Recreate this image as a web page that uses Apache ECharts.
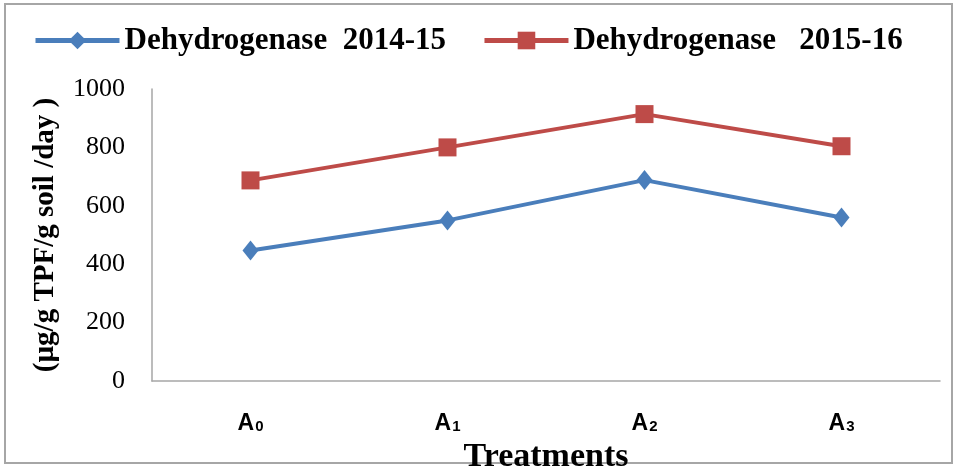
<!DOCTYPE html>
<html>
<head>
<meta charset="utf-8">
<script src="https://cdn.jsdelivr.net/npm/echarts@6/dist/echarts.min.js"></script>
<style>
  html, body { margin: 0; padding: 0; background: #fff; }
  #chart { width: 957px; height: 466px; }
</style>
</head>
<body>
<div id="chart"></div>
<script>
const categories = ['A0', 'A1', 'A2', 'A3'];
const subs = ['0', '1', '2', '3'];
const dehydro1415 = [447, 550, 688, 560];
const dehydro1516 = [687, 800, 914, 804];
const yTicks = [0, 200, 400, 600, 800, 1000];

const chart = echarts.init(document.getElementById('chart'));

chart.setOption({
  animation: false,
  backgroundColor: '#fff',
  graphic: [{
    type: 'rect',
    shape: { x: 5, y: 4, width: 947, height: 459 },
    style: { fill: 'none', stroke: '#a6a6a6', lineWidth: 2 }
  }],
  legend: {
    top: 20,
    left: 28,
    itemWidth: 84,
    itemHeight: 22,
    itemGap: 36,
    textStyle: {
      fontFamily: 'Liberation Serif',
      fontWeight: 'bold',
      fontSize: 31,
      color: '#000'
    },
    data: [
      { name: 'Dehydrogenase  2014-15', itemStyle: { color: '#4a7ebb' }, lineStyle: { width: 5 } },
      { name: 'Dehydrogenase   2015-16', itemStyle: { color: '#be4b48' }, lineStyle: { width: 5 } }
    ]
  },
  grid: { left: 152, top: 89, right: 17, bottom: 85, outerBoundsMode: 'none' },
  xAxis: {
    type: 'category',
    data: categories,
    boundaryGap: true,
    axisLine: { lineStyle: { color: '#a6a6a6', width: 1.5 } },
    axisTick: { show: false },
    axisLabel: {
      margin: 31,
      formatter: (v, i) => '{a|A}{s|' + subs[i] + '}',
      rich: {
        a: { fontFamily: 'Liberation Sans', fontWeight: 'bold', fontSize: 23, color: '#000' },
        s: { fontFamily: 'Liberation Sans', fontWeight: 'bold', fontSize: 15, color: '#000', padding: [6, 0, 0, 1] }
      }
    },
    name: 'Treatments',
    nameLocation: 'middle',
    nameGap: 47,
    nameTextStyle: {
      fontFamily: 'Liberation Serif',
      fontWeight: 'bold',
      fontSize: 34,
      color: '#000'
    }
  },
  yAxis: {
    type: 'value',
    min: yTicks[0],
    max: yTicks[yTicks.length - 1],
    interval: 200,
    splitLine: { show: false },
    axisLine: { show: true, lineStyle: { color: '#a6a6a6', width: 1.5 } },
    axisTick: { show: false },
    axisLabel: {
      margin: 27,
      formatter: v => String(v),
      fontFamily: 'Liberation Serif',
      fontSize: 26,
      color: '#000'
    },
    name: '(µg/g TPF/g soil /day )',
    nameLocation: 'middle',
    nameGap: 92,
    nameTextStyle: {
      fontFamily: 'Liberation Serif',
      fontWeight: 'bold',
      fontSize: 29,
      color: '#000'
    }
  },
  series: [
    {
      name: 'Dehydrogenase  2014-15',
      type: 'line',
      data: dehydro1415,
      symbol: 'diamond',
      symbolSize: [16, 20],
      lineStyle: { color: '#4a7ebb', width: 4 },
      itemStyle: { color: '#4a7ebb' }
    },
    {
      name: 'Dehydrogenase   2015-16',
      type: 'line',
      data: dehydro1516,
      symbol: 'rect',
      symbolSize: 18,
      lineStyle: { color: '#be4b48', width: 4 },
      itemStyle: { color: '#be4b48' }
    }
  ]
});
</script>
</body>
</html>
